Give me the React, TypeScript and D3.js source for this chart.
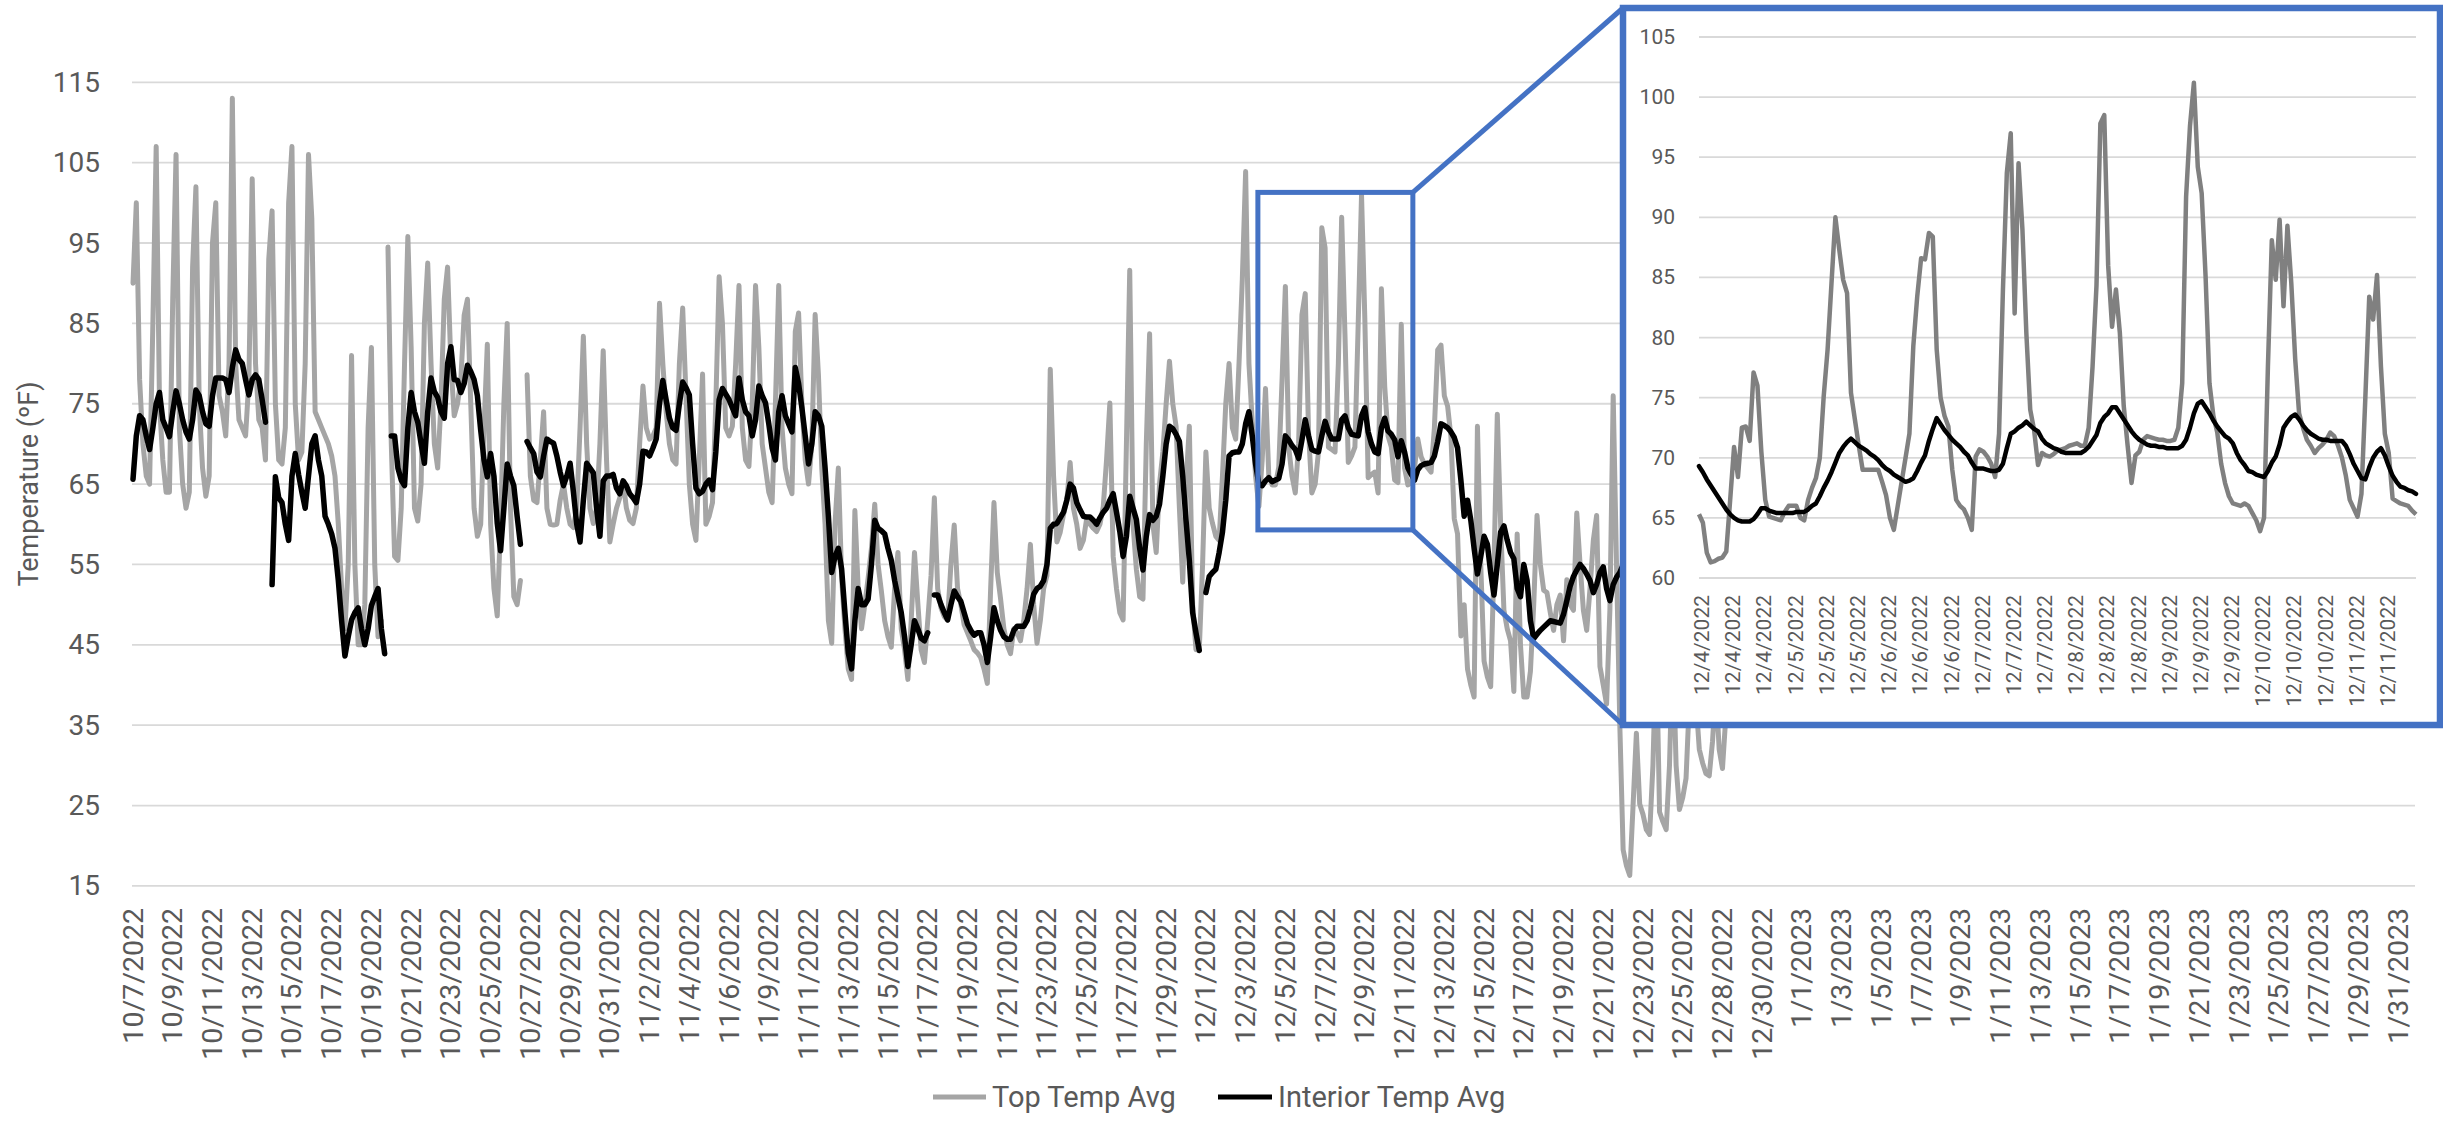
import React, { useEffect } from "react";
import * as d3 from "d3";

// ---------- Main chart data (samples every 4 h, 12 per x-label) ----------
const xLabels = ["10/7/2022","10/9/2022","10/11/2022","10/13/2022","10/15/2022","10/17/2022","10/19/2022","10/21/2022","10/23/2022","10/25/2022","10/27/2022","10/29/2022","10/31/2022","11/2/2022","11/4/2022","11/6/2022","11/9/2022","11/11/2022","11/13/2022","11/15/2022","11/17/2022","11/19/2022","11/21/2022","11/23/2022","11/25/2022","11/27/2022","11/29/2022","12/1/2022","12/3/2022","12/5/2022","12/7/2022","12/9/2022","12/11/2022","12/13/2022","12/15/2022","12/17/2022","12/19/2022","12/21/2022","12/23/2022","12/25/2022","12/28/2022","12/30/2022","1/1/2023","1/3/2023","1/5/2023","1/7/2023","1/9/2023","1/11/2023","1/13/2023","1/15/2023","1/17/2023","1/19/2023","1/21/2023","1/23/2023","1/25/2023","1/27/2023","1/29/2023","1/31/2023"];

const yTicks = [15, 25, 35, 45, 55, 65, 75, 85, 95, 105, 115];

const topTempAvg: (number | null)[] = [
90,100,78,70,66,65,85,107,75,68,
64,64,88,106,72,65,62,64,92,102,
75,67,63.5,66,95,100,76,74,71,80,
113,80,73,72,71,78,103,80,73,72,
68,93,99,75,68,67.5,72,100,107,75,
68,69,80,106,98,74,73,72,71,70,
68.5,66,60,52,47,55,81,55,45,45,
50,72,82,55,46,48,null,94.5,70,56,
55.5,62,80,95.8,82,62,60.4,65,85,92.5,
80,70,67,75,88,92,80,73.5,75,78,
86,88,75,62,58.5,60,72,82.4,60,52,
48.6,60,75,85,62,51,50,53,null,78.6,
66,63,62.7,68,74,62,60,59.9,60,63,
65,62,60,59.6,62,72,83.4,70,62,60.1,
62,70,81.6,68,57.8,60,62,63.3,65.4,62,
60.5,60.1,62,70,77.2,72,70.6,71,72,87.5,
80,74,70,68,67.5,80,86.9,76,65,60,
58,68,78.7,60,61,62.7,75,90.8,85,72,
71,72.2,80,89.7,72,68,67.2,75,89.7,82,
70,67,64,62.7,75,89.7,72,67,65,63.8,
84,86.3,75,68,65,70,86.1,78.5,67,60,
48,45.2,60,67,53.3,47,42,40.7,61.7,52,
47,50,53.3,57,62.5,55,51.7,48,46,44.7,
52,56.5,47,44.4,40.7,48,56.5,50.2,44.4,42.8,
48,53.6,63.3,52,49.6,48.5,48.1,55,59.9,52,
50,47.5,46.5,45.5,44.4,44,43.4,42,40.2,52,
62.7,54,50.7,47,45,43.9,47,46.5,45.5,48,
52,57.5,50,45.2,48,52,53.6,79.3,66,57.8,
59,61.2,63,67.7,62,60,57,58,60.7,60,
59.5,59.1,60,62.2,68,75.1,56,52,49,48.1,
70,91.6,60,54.4,51,50.7,70,83.7,60,56.5,
65,69,75,80.3,75,72.2,62,52.8,65,72.2,
50,44.4,44.4,55,69,62,60.1,58.5,58,66,
75,80,72,70.6,80,90.5,103.9,80,72.7,66,
62.2,68,76.9,66,64.9,64.9,67.1,78,89.6,69.6,
66,63.9,70,86.1,88.7,71.5,63.9,65,69,96.9,
94.4,69.6,69.3,69,80,98.2,83.6,67.7,68.5,69.6,
85,101,85.5,65.8,66.2,66.5,63.9,89.3,77.2,71,
69.6,65.5,65.2,84.9,67,64.9,65.2,67,70.6,68.4,
67.5,67,66.5,72,81.7,82.3,76,74.7,70.9,60.7,
58.8,46.1,50,42,40,38.5,72.2,55,43,41,
39.8,55,73.7,60,49.3,47,45.5,39.2,58.8,45,
38.5,38.5,41.7,50,61.1,55,51.8,51.5,49,46.8,
50,51.2,45.5,53.1,50,49.3,61.4,55,49.3,46.8,
52,58,61.1,42.3,40,37.6,49.3,76,55,35,
19.5,17.5,16.3,25,34,25.2,23.9,22,21.4,30,
45,24.2,23,22,30,45,30,24.5,26,28.4,
38,45,38,32,30.3,29,28.7,33,40,32,
29.6,36,45
];

const interiorTempAvg: (number | null)[] = [
65.6,71,73.5,73,71,69.3,72,75,76.4,73,
72,70.9,74,76.6,75,73,71.5,70.6,73,76.7,
76,74,72.5,72.2,76,78.2,78.2,78.2,78,76.4,
79.5,81.7,80.5,80,78,76.1,78,78.6,78,75.5,
72.7,null,52.5,65.9,63.3,62.7,60,58,66,68.8,
66.2,64,62,66,70,71,68,66,61,60,
58.8,57,53,48,43.6,46,48.1,49,49.6,47,
45,47,49.9,51,52,47,43.9,null,71,71,
67,65.5,64.8,72,76.4,74,72.7,70,67.6,74,
78.2,76.5,75.8,74,73.2,80,82.1,78,77.9,76.4,
77.5,79.8,79,78,76,71.7,68,65.9,68.8,66,
60.1,56.7,62,67.5,66,64.8,61,57.5,null,70.3,
69.5,68.8,66.5,65.9,68.5,70.6,70.3,70.1,68.5,66.5,
64.8,66,67.6,64,60,57.8,63,67.6,67,66.4,
62,58.5,65.4,66,66,66.2,64.5,63.8,65.4,64.8,
63.8,63.3,62.7,65,69.1,69,68.5,69.5,70.6,75,
77.9,75.5,73.2,72,71.7,75,77.7,77,76.1,70,
64.5,63.8,64.1,65,65.5,64.3,69,75.5,76.9,76.2,
75.5,74.5,73.5,78.2,75.5,74,73.5,71,73,77.2,
76,75.1,72.5,69.5,68,74,76,73.5,72.5,71.5,
79.5,77.5,74.5,71,67.5,70,74,73.5,72.2,67,
61,54,56,57,54.4,49,44,42,48,52,
50,50,50.7,55,60.5,59.5,59.2,58.8,57,55.5,
53,51,49,46,42.3,45,48,47,45.8,45.5,
46.5,null,51.2,51.2,50,49,48.1,50,51.7,51,
50.4,49,47.6,46.8,46.2,46.5,46.5,45,42.8,46,
49.6,48,46.8,46,45.7,45.7,46.8,47.3,47.3,47.3,
48,49.5,51.3,52,52.3,53,55,59.5,60,60.1,
60.8,61.5,63,65,64.5,62.7,61.8,61,60.9,60.9,
60.5,60,60.8,61.5,62,63,63.8,61.5,59.1,56,
58.5,63.5,62,60.6,57,54.3,58.5,61.2,60.5,61,
62.5,66,70,72.2,71.9,71.2,70.3,66,60.5,55.5,
49,46.5,44.3,null,51.5,53.5,54,54.4,56.5,59,
63,68.5,68.9,69,69,70,72.5,74,71,67.5,
65,64.8,65.4,65.8,65.3,65.5,65.7,67.5,71,70.5,
69.8,69.3,68.2,70.5,73,71,69.3,69.1,69,71,
72.8,71.5,70.6,70.6,70.6,73,73.5,72,71.2,71.1,
71,73.5,74.5,71.5,70,69,68.8,72,73.2,71.6,
71.2,70.5,68.4,70.4,69,67,66.2,65.5,66.8,67.3,
67.5,67.6,67.7,68.5,70.3,72.5,72.3,72,71.5,70.8,
69.5,65.5,61,63,60.5,57,53.8,56,58.5,57.5,
54,51.2,55,59,59.8,58,56.5,55.7,52,51,
55,53,48,45.8,46.3,46.8,47.2,47.6,48,47.9,
47.8,47.7,48.8,50.5,52.3,53.5,54.3,55,54.5,53.8,
53,51.5,52.5,54,54.7,52,50.5,52.5,53.4,54,
55
];

// ---------- Inset data (hourly, 12/4 - 12/11) ----------
const insetLabels = ["12/4/2022","12/4/2022","12/4/2022","12/5/2022","12/5/2022","12/5/2022","12/6/2022","12/6/2022","12/6/2022","12/7/2022","12/7/2022","12/7/2022","12/8/2022","12/8/2022","12/8/2022","12/9/2022","12/9/2022","12/9/2022","12/10/2022","12/10/2022","12/10/2022","12/11/2022","12/11/2022"];
const insetYTicks = [60, 65, 70, 75, 80, 85, 90, 95, 100, 105];

const insetTop: number[] = [
65.3,64.6,62.1,61.3,61.4,61.6,61.7,62.2,66.5,70.9,
68.4,72.5,72.6,71.4,77.1,76,70.5,66.5,65.1,65,
64.9,64.8,65.5,66,66,66,65,64.8,66.5,67.5,
68.3,70,75.1,79,84.5,90,87.3,84.8,83.7,75.4,
73.2,71,69,69,69,69,69,68,66.9,65,
64,66,68,70,72,79.3,83.4,86.6,86.5,88.7,
88.4,79,75,73.5,72.6,69,66.5,66,65.7,65,
64,70.1,70.7,70.5,70.1,69.5,68.4,72,84,93.7,
97,82,94.5,89,80.4,74,72.3,69.4,70.4,70.2,
70.1,70.3,70.6,70.7,70.8,71,71.1,71.2,71,71,
72.5,77.6,84.3,97.8,98.5,86,80.9,84,80.4,74.3,
71,67.9,70.2,70.5,71.5,71.8,71.7,71.6,71.5,71.5,
71.4,71.4,71.5,72.5,76.2,91.7,97.6,101.2,94.2,92,
85.1,76.2,73.5,72.1,69.5,67.9,66.8,66.2,66.1,66,
66.2,66,65.4,64.8,63.9,65,77.6,88.1,84.8,89.8,
82.6,89.3,84.5,78.2,73.7,72.5,71.5,71,70.4,70.8,
71.1,71.5,72.1,71.8,71,70,68.5,66.5,65.8,65.1,
67,75,83.4,81.5,85.2,77.6,72,70.4,66.6,66.4,
66.2,66.1,66,65.6,65.3
];

const insetInterior: number[] = [
69.3,68.8,68.2,67.7,67.2,66.7,66.2,65.7,65.3,65,
64.8,64.7,64.7,64.7,64.9,65.3,65.8,65.8,65.6,65.5,
65.4,65.4,65.4,65.4,65.4,65.5,65.5,65.5,65.7,66,
66.2,66.8,67.5,68.1,68.8,69.6,70.4,70.9,71.3,71.6,
71.3,71,70.8,70.6,70.3,70.1,69.8,69.4,69.1,68.9,
68.6,68.4,68.2,68,68.1,68.3,68.9,69.6,70.2,71.4,
72.4,73.3,72.8,72.3,71.9,71.5,71.2,70.9,70.5,70.2,
69.6,69.1,69.1,69.1,69,68.9,68.9,69,69.5,70.8,
72,72.2,72.5,72.7,73,72.7,72.4,72.2,71.6,71.2,
71,70.8,70.7,70.5,70.4,70.4,70.4,70.4,70.4,70.6,
70.9,71.4,71.9,72.9,73.4,73.7,74.2,74.2,73.7,73.2,
72.7,72.2,71.8,71.5,71.3,71.1,71,71,70.9,70.9,
70.8,70.8,70.8,70.8,71,71.5,72.5,73.7,74.5,74.7,
74.2,73.7,73.1,72.6,72.2,71.8,71.6,71.2,70.4,69.8,
69.4,68.9,68.8,68.6,68.5,68.4,68.9,69.6,70.1,71.1,
72.5,73,73.4,73.6,73.2,72.7,72.3,72,71.8,71.6,
71.5,71.5,71.4,71.4,71.4,71.4,71,70.3,69.5,68.9,
68.3,68.2,69.2,70,70.5,70.8,70.2,69.3,68.5,68,
67.6,67.5,67.3,67.2,67
];

const W = 2443;
const H = 1123;
const FONT = "Roboto, 'Liberation Sans', Arial, sans-serif";
const TEXT = "#595959";
const GRID = "#d9d9d9";
const BLUE = "#4472C4";

export default function App() {
  useEffect(() => {
    document.body.style.margin = "0";
    document.body.style.overflow = "hidden";
  }, []);

  // main scales
  const x = d3.scaleLinear().domain([0, 684]).range([133, 2398]);
  const y = d3.scaleLinear().domain([15, 115]).range([885.9, 82.3]);
  const lineMain = d3
    .line<number | null>()
    .defined((d) => d != null)
    .x((_, i) => x(i))
    .y((d) => y(d as number));

  // inset scales
  const ix = d3.scaleLinear().domain([0, 184]).range([1699, 2416]);
  const iy = d3.scaleLinear().domain([60, 105]).range([578, 37]);
  const lineInset = d3
    .line<number>()
    .x((_, i) => ix(i))
    .y((d) => iy(d));

  // zoom rectangle on main chart (12/4 - 12/11, 60-101)
  const rx0 = x(339.7), rx1 = x(386.5);
  const ry0 = y(101.3), ry1 = y(59.3);
  const frame = { x0: 1623, y0: 8, x1: 2440, y1: 725 };

  return (
    <svg width={W} height={H} style={{ position: "absolute", left: 0, top: 0, background: "#fff" }} fontFamily={FONT}>
      <rect x={0} y={0} width={W} height={H} fill="#fff" />
      {/* gridlines */}
      {yTicks.map((t) => (
        <line key={"g" + t} x1={132} x2={2415} y1={y(t)} y2={y(t)} stroke={GRID} strokeWidth={1.8} />
      ))}
      {/* y tick labels */}
      {yTicks.map((t) => (
        <text key={"yl" + t} x={100} y={y(t)} textAnchor="end" dominantBaseline="central" fontSize={28} fill={TEXT}>
          {t}
        </text>
      ))}
      {/* y axis title */}
      <text transform={`translate(29,484) rotate(-90)`} textAnchor="middle" dominantBaseline="central" fontSize={27} fill={TEXT}>
        Temperature (ºF)
      </text>
      {/* x labels */}
      {xLabels.map((l, i) => (
        <text key={"xl" + i} transform={`translate(${x(i * 12)},908) rotate(-90)`} textAnchor="end" dominantBaseline="central" fontSize={28.5} fill={TEXT}>
          {l}
        </text>
      ))}
      {/* main series */}
      <path d={lineMain(topTempAvg) || ""} fill="none" stroke="#a5a5a5" strokeWidth={5} strokeLinejoin="round" strokeLinecap="round" />
      <path d={lineMain(interiorTempAvg) || ""} fill="none" stroke="#000" strokeWidth={5.5} strokeLinejoin="round" strokeLinecap="round" />

      {/* zoom rectangle and connectors */}
      <rect x={rx0} y={ry0} width={rx1 - rx0} height={ry1 - ry0} fill="none" stroke={BLUE} strokeWidth={5} />
      <line x1={rx1} y1={ry0} x2={frame.x0} y2={frame.y0} stroke={BLUE} strokeWidth={5} />
      <line x1={rx1} y1={ry1} x2={frame.x0} y2={frame.y1} stroke={BLUE} strokeWidth={5} />

      {/* inset */}
      <rect x={frame.x0} y={frame.y0} width={frame.x1 - frame.x0} height={frame.y1 - frame.y0} fill="#fff" />
      {insetYTicks.map((t) => (
        <line key={"ig" + t} x1={1699} x2={2416} y1={iy(t)} y2={iy(t)} stroke={GRID} strokeWidth={1.8} />
      ))}
      {insetYTicks.map((t) => (
        <text key={"iyl" + t} x={1675} y={iy(t)} textAnchor="end" dominantBaseline="central" fontSize={21} fill={TEXT}>
          {t}
        </text>
      ))}
      {insetLabels.map((l, i) => (
        <text key={"ixl" + i} transform={`translate(${ix(i * 8 + 0.8)},595) rotate(-90)`} textAnchor="end" dominantBaseline="central" fontSize={21} fill={TEXT}>
          {l}
        </text>
      ))}
      <path d={lineInset(insetTop) || ""} fill="none" stroke="#808080" strokeWidth={4.5} strokeLinejoin="round" />
      <path d={lineInset(insetInterior) || ""} fill="none" stroke="#000" strokeWidth={4.5} strokeLinejoin="round" strokeLinecap="round" />
      <rect x={frame.x0} y={frame.y0} width={frame.x1 - frame.x0} height={frame.y1 - frame.y0} fill="none" stroke={BLUE} strokeWidth={6.5} />

      {/* legend */}
      <line x1={933} x2={986} y1={1097} y2={1097} stroke="#a5a5a5" strokeWidth={5} />
      <text x={992} y={1097} dominantBaseline="central" fontSize={29} fill={TEXT}>Top Temp Avg</text>
      <line x1={1218} x2={1272} y1={1097} y2={1097} stroke="#000" strokeWidth={5} />
      <text x={1278} y={1097} dominantBaseline="central" fontSize={29} fill={TEXT}>Interior Temp Avg</text>
    </svg>
  );
}
